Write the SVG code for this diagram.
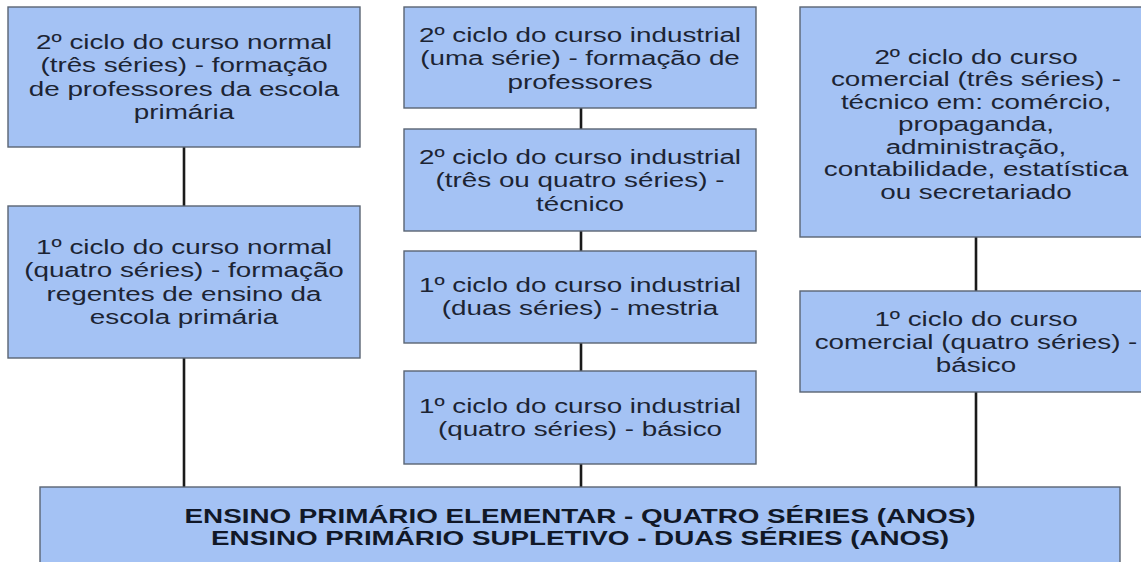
<svg xmlns="http://www.w3.org/2000/svg" width="1141" height="562" viewBox="0 0 1141 562">
<style>
.box{fill:#a4c2f4;stroke:#5a6473;stroke-width:1.4}
.t{font-family:"Liberation Sans",Arial,sans-serif;font-size:20px;fill:#1c2433;text-anchor:middle}
.b{font-weight:bold;fill:#111827}
.c{stroke:#1a1a1a;stroke-width:2.6;fill:none}
</style>
<rect width="1141" height="562" fill="#ffffff"/>
<g id="connectors">
<line class="c" x1="184" y1="147" x2="184" y2="206"/>
<line class="c" x1="184" y1="358" x2="184" y2="487"/>
<line class="c" x1="581" y1="108" x2="581" y2="129"/>
<line class="c" x1="581" y1="231" x2="581" y2="251"/>
<line class="c" x1="581" y1="343" x2="581" y2="371"/>
<line class="c" x1="581" y1="464" x2="581" y2="487"/>
<line class="c" x1="976" y1="237" x2="976" y2="291"/>
<line class="c" x1="976" y1="392" x2="976" y2="487"/>
</g>
<g id="normal2">
<rect class="box" x="8" y="7" width="352" height="140"/>
<text class="t" transform="translate(184,0) scale(1.39,1)"><tspan x="0" y="49">2º ciclo do curso normal</tspan><tspan x="0" y="72.5">(três séries) - formação</tspan><tspan x="0" y="96">de professores da escola</tspan><tspan x="0" y="119.5">primária</tspan></text>
</g>
<g id="normal1">
<rect class="box" x="8" y="206" width="352" height="152"/>
<text class="t" transform="translate(184,0) scale(1.39,1)"><tspan x="0" y="254">1º ciclo do curso normal</tspan><tspan x="0" y="277.5">(quatro séries) - formação</tspan><tspan x="0" y="301">regentes de ensino da</tspan><tspan x="0" y="324.5">escola primária</tspan></text>
</g>
<g id="ind2prof">
<rect class="box" x="404" y="7" width="352" height="101"/>
<text class="t" transform="translate(580,0) scale(1.39,1)"><tspan x="0" y="42">2º ciclo do curso industrial</tspan><tspan x="0" y="65.5">(uma série) - formação de</tspan><tspan x="0" y="89">professores</tspan></text>
</g>
<g id="ind2tec">
<rect class="box" x="404" y="129" width="352" height="102"/>
<text class="t" transform="translate(580,0) scale(1.39,1)"><tspan x="0" y="164">2º ciclo do curso industrial</tspan><tspan x="0" y="187.5">(três ou quatro séries) -</tspan><tspan x="0" y="211">técnico</tspan></text>
</g>
<g id="ind1mest">
<rect class="box" x="404" y="251" width="352" height="92"/>
<text class="t" transform="translate(580,0) scale(1.39,1)"><tspan x="0" y="292">1º ciclo do curso industrial</tspan><tspan x="0" y="315.5">(duas séries) - mestria</tspan></text>
</g>
<g id="ind1bas">
<rect class="box" x="404" y="371" width="352" height="93"/>
<text class="t" transform="translate(580,0) scale(1.39,1)"><tspan x="0" y="413">1º ciclo do curso industrial</tspan><tspan x="0" y="436.5">(quatro séries) - básico</tspan></text>
</g>
<g id="com2">
<rect class="box" x="800" y="7" width="352" height="230"/>
<text class="t" transform="translate(976,0) scale(1.39,1)"><tspan x="0" y="64">2º ciclo do curso</tspan><tspan x="0" y="86.5">comercial (três séries) -</tspan><tspan x="0" y="109">técnico em: comércio,</tspan><tspan x="0" y="131.5">propaganda,</tspan><tspan x="0" y="154">administração,</tspan><tspan x="0" y="176.5">contabilidade, estatística</tspan><tspan x="0" y="199">ou secretariado</tspan></text>
</g>
<g id="com1">
<rect class="box" x="800" y="291" width="352" height="101"/>
<text class="t" transform="translate(976,0) scale(1.39,1)"><tspan x="0" y="326">1º ciclo do curso</tspan><tspan x="0" y="349">comercial (quatro séries) -</tspan><tspan x="0" y="372">básico</tspan></text>
</g>
<g id="primario">
<rect class="box" x="40" y="487" width="1080" height="90"/>
<text class="t b" transform="translate(580,0) scale(1.39,1)"><tspan x="0" y="523">ENSINO PRIMÁRIO ELEMENTAR - QUATRO SÉRIES (ANOS)</tspan><tspan x="0" y="545.5">ENSINO PRIMÁRIO SUPLETIVO - DUAS SÉRIES (ANOS)</tspan></text>
</g>
</svg>
